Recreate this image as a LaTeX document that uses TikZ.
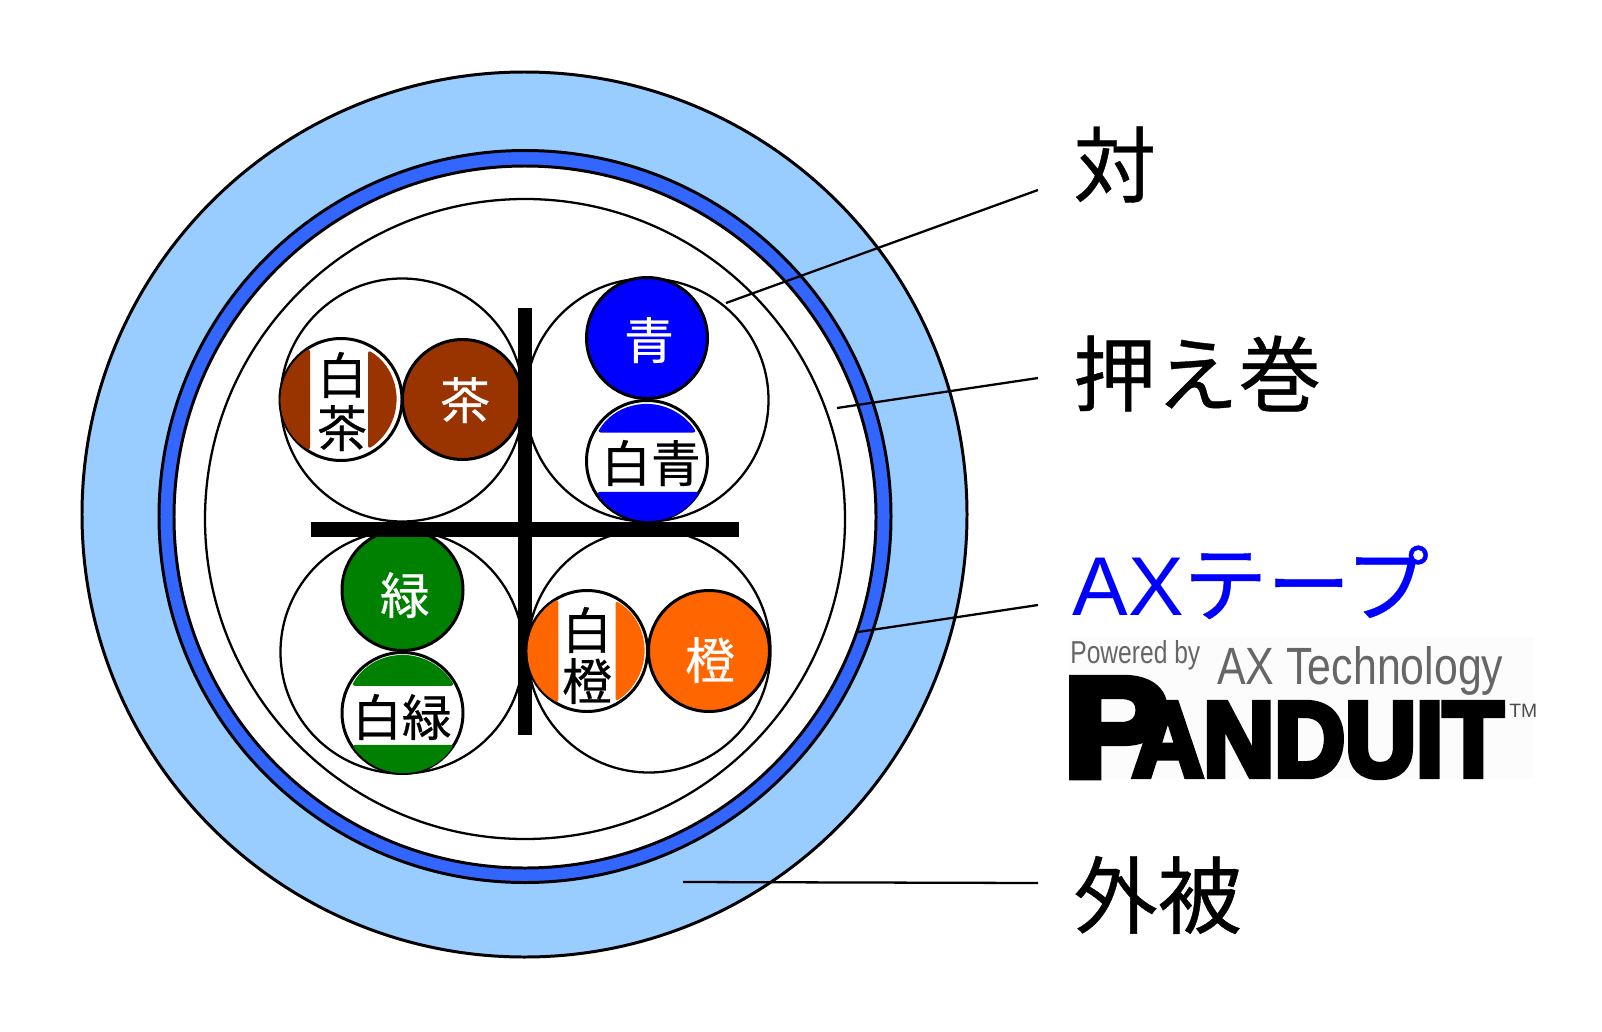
\documentclass[tikz,border=0pt]{standalone}
\usepackage{fontspec}
\newfontfamily\jpfont[FakeBold=0.5]{Noto Sans CJK JP}
\newfontfamily\latinfont{Liberation Sans}
\newfontfamily\heavyfont[FakeBold=6]{Liberation Sans Bold}
\definecolor{sheath}{HTML}{99CCFF}
\definecolor{tape}{HTML}{3366FF}
\definecolor{brownwire}{HTML}{993300}
\definecolor{greenwire}{HTML}{008000}
\definecolor{bluewire}{HTML}{0000FF}
\definecolor{orangewire}{HTML}{FF6600}
\definecolor{logogray}{HTML}{666666}
\tikzset{
    outline/.style={draw=black,line width=1.7pt},
    thinline/.style={draw=black,line width=1.3pt},
    stripe/.style={rounded corners=1.7pt},
    bigtext/.style={anchor=base west,inner sep=0pt,font=\jpfont\fontsize{47}{50}\selectfont},
    wiretext/.style={anchor=base,inner sep=0pt,font=\jpfont\fontsize{28.3}{30}\selectfont},
    logotext/.style={anchor=base west,inner sep=0pt,text=logogray,font=\latinfont},
}
\begin{document}
\begin{tikzpicture}[x=0.02cm,y=-0.02cm]
    \useasboundingbox (0,0) rectangle (1602,1031);
    \coordinate (pairEnd) at (1038,190);
    \coordinate (pairStart) at (726,303);
    \coordinate (wrapEnd) at (1038,378);
    \coordinate (wrapStart) at (837,408);
    \coordinate (tapeEnd) at (1038,605);
    \coordinate (tapeStart) at (858,632);
    \coordinate (sheathEnd) at (1038,883);
    \coordinate (sheathStart) at (683,882);
    % cable layers
    \filldraw[outline,fill=sheath] (524.5,514.5) circle (442.5);
    \filldraw[outline,fill=tape] (525,516.5) circle (366);
    \filldraw[outline,fill=white] (525,517) circle (351);
    \draw[thinline] (525,519) circle (320);
    % twisted pairs
    \foreach \x/\y in {402/400,647/400,402/652,649/651} {
    \draw[thinline] (\x,\y) circle (121.5);
    }
    % wires
    \filldraw[outline,fill=brownwire] (462.5,399.5) circle (60);
    \filldraw[outline,fill=bluewire] (647,338) circle (60.5);
    \filldraw[outline,fill=greenwire] (402.5,590) circle (60.5);
    \filldraw[outline,fill=orangewire] (709,651) circle (60.5);
    \draw[outline] (341,399.5) circle (61);
    \draw[outline] (647,461) circle (60.5);
    \draw[outline] (402.5,713) circle (60.5);
    \draw[outline] (587,651) circle (60.5);
    % separator
    \fill[black] (518,308) rectangle (532,735);
    \fill[black] (311,522) rectangle (739,537);
    % stripes
    \fill[brownwire,stripe] (339.5,399.5)++(120:59) arc[start angle=120,end angle=240,radius=59]--cycle;
    \fill[brownwire,stripe] (339.5,399.5)++(-60:57) arc[start angle=-60,end angle=60,radius=57]--cycle;
    \fill[bluewire,stripe] (647,461)++(210:57) arc[start angle=210,end angle=330,radius=57]--cycle;
    \fill[bluewire,stripe] (648,461)++(31:60) arc[start angle=31,end angle=149,radius=60]--cycle;
    \fill[greenwire,stripe] (403,713)++(208:58) arc[start angle=208,end angle=332,radius=58]--cycle;
    \fill[greenwire,stripe] (403,713)++(32:60) arc[start angle=32,end angle=148,radius=60]--cycle;
    \fill[orangewire,stripe] (586.5,651)++(118.6:59) arc[start angle=118.6,end angle=241.4,radius=59]--cycle;
    \fill[orangewire,stripe] (586.5,651)++(-60:58) arc[start angle=-60,end angle=60,radius=58]--cycle;
    % wire names
    \node[wiretext,text=white] (brownName) at (465,419) {茶};
    \node[wiretext,text=white] (blueName) at (649,359) {青};
    \node[wiretext,text=white] (greenName) at (405,614) {緑};
    \node[wiretext,text=white] (orangeName) at (710,679) {橙};
    \node[wiretext] (whiteBrownA) at (342,394) {白};
    \node[wiretext] (whiteBrownB) at (342,447) {茶};
    \node[wiretext] (whiteBlue) at (651,482) {白青};
    \node[wiretext] (whiteGreen) at (402,736) {白緑};
    \node[wiretext] (whiteOrangeA) at (587,649) {白};
    \node[wiretext] (whiteOrangeB) at (587,700) {橙};
    % labels
    \node[bigtext] (pairLabel) at (1073,196) {対};
    \node[bigtext] (wrapLabel) at (1073,405) {押え巻};
    \node[bigtext,text=bluewire] (tapeLabel) at (1072,615) {{\latinfont\fontsize{47.5}{50}\selectfont AX}{\fontsize{47.5}{50}\selectfont テープ}};
    \node[bigtext,font=\jpfont\fontsize{48}{50}\selectfont] (sheathLabel) at (1073,927) {外被};
    \draw[thinline] (pairStart)--(pairEnd);
    \draw[thinline] (wrapStart)--(wrapEnd);
    \draw[thinline] (tapeStart)--(tapeEnd);
    \draw[thinline] (sheathStart)--(sheathEnd);
    % logo
    \fill[black!1] (1070,637) rectangle (1534,778);
    \node[logotext] (poweredBy) at (1070,663) {\resizebox{2.6cm}{0.46cm}{Powered by}};
    \node[logotext] (axTech) at (1217,684) {\resizebox{5.72cm}{0.76cm}{AX Technology}};
    \node[anchor=base west,inner sep=0pt,font=\heavyfont] (panduit) at (1063,776) {\smash{\resizebox{2.1cm}{1.94cm}{P}}\kern-0.72cm\resizebox{7.42cm}{1.46cm}{ANDUIT}};
    \node[anchor=base west,inner sep=0pt,text=black!70,font=\latinfont\fontsize{11}{11}\selectfont] (tmMark) at (1509,717) {TM};
\end{tikzpicture}
\end{document}
